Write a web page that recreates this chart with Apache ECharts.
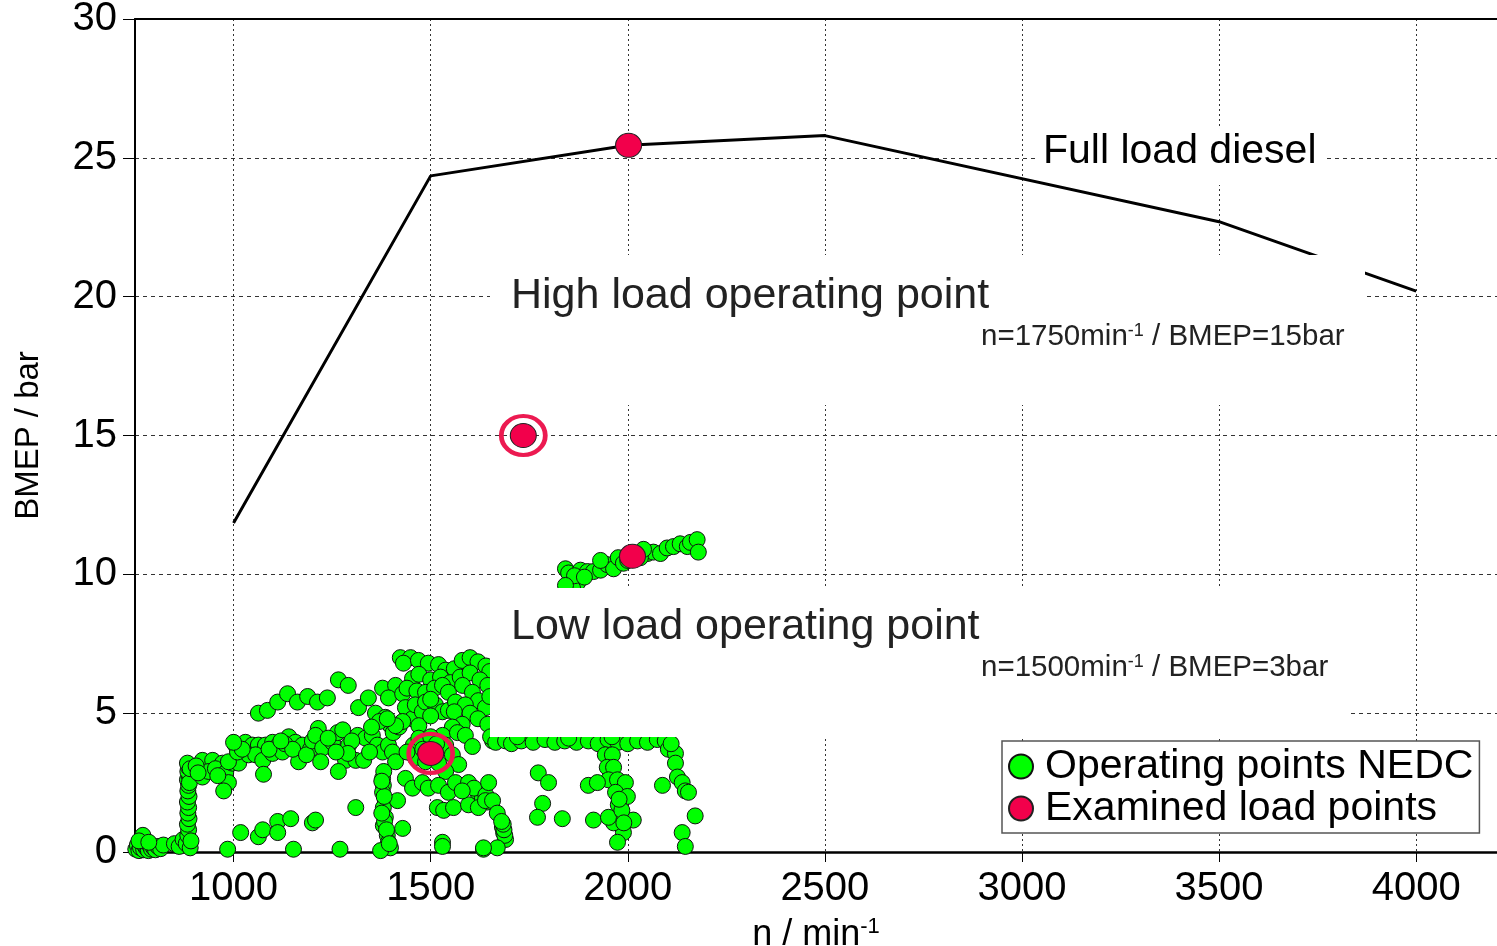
<!DOCTYPE html>
<html>
<head>
<meta charset="utf-8">
<script src="https://cdn.jsdelivr.net/npm/echarts@6/dist/echarts.min.js"></script>
<style>
html,body{margin:0;padding:0;background:#fff;}
#chart{width:1497px;height:946px;}
</style>
</head>
<body>
<div id="chart"></div>
<script>
// ---- data ----
const xTicks = [1000, 1500, 2000, 2500, 3000, 3500, 4000];
const yTicks = [0, 5, 10, 15, 20, 25, 30];

// Full load curve [rpm, BMEP bar]
const fullLoad = [[1000, 11.85], [1500, 24.35], [2000, 25.45], [2500, 25.8], [3500, 22.7], [4000, 20.2]];

// Examined load points
const examinedPoints = [[2002, 25.45], [1735, 15.0], [2012, 10.65], [1500, 3.55]];
// Highlight rings around the two selected operating points
const ringPoints = [[1735, 15.0], [1500, 3.55]];

// NEDC operating points
const nedcIdle = [[752,0.1],[756,0.25],[760,0.05],[764,0.15],[768,0.3],[772,0.08],[776,0.2],[780,0.12],[784,0.05],[788,0.22],[792,0.1],[797,0.15],[802,0.08],[808,0.2],[815,0.12],[822,0.25],[770,0.6],[760,0.4],[785,0.35]];
const nedcFirstGear = [[850,0.3],[862,0.2],[872,0.45],[880,0.3],[884,0.6],[886,0.8],[883,1.0],[887,1.2],[884,1.4],[886,1.6],[883,1.8],[887,2.0],[884,2.2],[886,2.4],[883,2.6],[887,2.75],[884,2.9],[886,3.05],[883,3.2],[890,0.15],[892,0.4],[888,2.5],[890,3.0]];
const nedcLowRow = [[921,3.3],[947,3.3],[972,3.2],[921,2.7],[937,2.9],[954,3.0],[980,2.85],[987,2.5],[975,2.2],[997,3.2],[1005,3.85],[1013,3.2],[1030,3.95],[1048,3.85],[1063,3.85],[1081,3.85],[1099,3.95],[1114,3.85],[1140,4.15],[1157,3.95],[1175,3.85],[1195,3.7],[1038,3.5],[1056,3.5],[1074,3.3],[1099,3.55],[1124,3.6],[1165,3.25],[1076,2.8],[987,3.25],[1010,3.6],[1022,3.7],[1090,3.7],[1130,3.9],[1150,3.7],[1185,3.5],[905,3.1],[910,2.85],[960,2.75],[1000,3.95],[1120,4.0],[1200,4.0]];
const nedcUpperRow = [[1063,5.0],[1086,5.1],[1112,5.4],[1137,5.7],[1162,5.4],[1188,5.6],[1213,5.4],[1238,5.55],[1266,6.2],[1291,6.0]];
const nedcMidRow = [[1215,4.45],[1208,4.2],[1226,3.75],[1221,3.25],[1251,3.95],[1264,4.3],[1277,4.4],[1292,3.85],[1284,3.3],[1266,2.9],[1310,3.3],[1330,3.3],[1315,4.2],[1335,4.1],[1352,4.2],[1365,3.85],[1378,3.6],[1393,3.85],[1403,3.6],[1411,3.25],[1240,4.1],[1300,4.0],[1345,3.6],[1290,3.55],[1260,3.6]];
const nedcRise = [[1317,5.2],[1342,5.55],[1378,5.9],[1411,6.0],[1393,5.55],[1429,5.7],[1454,6.25],[1360,5.0],[1385,4.85],[1398,4.55],[1370,4.7],[1405,4.3],[1420,4.5],[1350,4.5]];
const nedcTopCluster = [[1423,7.0],[1449,7.0],[1431,6.8],[1469,6.9],[1494,6.8],[1520,6.75],[1538,6.55],[1560,6.6],[1580,6.9],[1600,7.0],[1620,6.85],[1640,6.7],[1650,6.5],[1470,6.4],[1500,6.2],[1525,6.3],[1550,6.1],[1575,6.3],[1600,6.45],[1625,6.2],[1645,6.0],[1440,5.9],[1465,5.8],[1487,5.75],[1510,5.9],[1530,6.0],[1545,5.75],[1581,6.0],[1606,5.75],[1621,5.45],[1639,5.2],[1650,5.6],[1436,5.2],[1454,4.8],[1461,5.3],[1479,5.05],[1487,5.4],[1512,5.3],[1530,5.05],[1545,5.1],[1563,5.4],[1588,5.3],[1429,4.7],[1411,4.55],[1390,4.8],[1500,5.5],[1560,5.05],[1600,5.0],[1620,4.8],[1645,4.6],[1580,4.6],[1555,4.5],[1470,4.55],[1500,4.9]];
const nedcAroundLow = [[1456,3.85],[1461,3.4],[1487,3.25],[1530,4.2],[1538,3.85],[1555,3.5],[1568,4.3],[1588,4.2],[1606,3.8],[1571,3.15],[1538,2.9],[1470,4.1],[1500,4.15],[1440,3.6],[1520,3.2],[1480,3.7],[1515,3.9]];
const nedcDiagonal = [[1436,2.65],[1454,2.3],[1479,2.5],[1494,2.3],[1520,2.4],[1545,2.15],[1563,2.5],[1596,2.5],[1619,2.15],[1631,1.95],[1644,1.8],[1517,1.6],[1533,1.5],[1558,1.6],[1596,1.7],[1621,1.6],[1610,2.3],[1580,2.2],[1640,2.05],[1647,2.5],[1639,1.85],[1657,1.85],[1669,1.4],[1682,0.9],[1685,0.7],[1690,0.45],[1688,0.6],[1686,0.8],[1684,1.0],[1680,1.1],[1634,0.1],[1669,0.15],[1657,4.0]];
const nedcSecondGear = [[1378,2.65],[1380,2.4],[1378,2.15],[1385,1.85],[1380,1.6],[1385,1.25],[1380,0.95],[1390,0.6],[1393,0.35],[1398,0.15],[1373,0.05],[1416,1.85],[1382,2.0],[1383,1.1],[1388,0.8],[1376,1.4],[1381,2.9],[1376,2.55]];
const nedcScattered = [[1018,0.7],[1063,0.55],[1074,0.8],[1112,1.1],[1112,0.7],[1145,1.2],[985,0.1],[1152,0.1],[1200,1.05],[1208,1.15],[1310,1.6],[1429,0.85],[1530,0.35],[1530,0.2],[1634,0.15],[1270,0.1],[1395,0.3],[1773,2.85],[1799,2.5],[1784,1.75],[1771,1.25],[1834,1.2],[1913,1.15]];
const nedcCruiseRow = [[1652,4.15],[1665,3.95],[1690,4.0],[1705,3.9],[1730,4.0],[1760,3.95],[1790,4.05],[1815,3.95],[1840,4.0],[1870,3.95],[1900,4.0],[1925,3.9],[1950,4.05],[1975,3.95],[2000,3.9],[2025,4.0],[2050,3.95],[2075,4.05],[1720,4.15],[1850,4.1],[1960,4.15],[2095,4.0]];
const nedcRightDrop = [[2103,3.7],[2121,3.55],[2121,3.2],[2126,2.7],[2138,2.5],[2146,2.2],[2154,2.15],[2088,2.4],[2171,1.3],[2138,0.7],[2146,0.2],[2110,3.9]];
const nedcThirdGear = [[1943,3.5],[1961,3.5],[1948,3.05],[1964,3.05],[1951,2.6],[1974,2.6],[1994,2.5],[1900,2.4],[1923,2.5],[1969,2.15],[1999,2.0],[1976,1.7],[1981,1.25],[1986,0.9],[1989,0.7],[1964,1.05],[1951,1.25],[2014,1.15],[1974,0.35],[1985,1.5],[1978,1.9],[1990,1.05]];
const nedcHighRow = [[1842,10.2],[1850,10.05],[1873,9.7],[1860,9.5],[1880,10.15],[1898,10.1],[1913,10.1],[1931,10.15],[1948,10.35],[1964,10.2],[1976,10.6],[1989,10.4],[2050,10.75],[2065,10.8],[2083,10.75],[2100,10.95],[2116,11.0],[2133,11.1],[2151,11.0],[2159,11.15],[2176,11.25],[2179,10.8],[2024,10.7],[2032,10.6],[1931,10.5],[2000,10.5],[2040,10.9],[1865,9.95],[1890,9.9],[2010,10.55],[1842,9.6]];

const nedcPoints = [].concat(nedcIdle, nedcFirstGear, nedcLowRow, nedcUpperRow, nedcMidRow, nedcRise,
  nedcTopCluster, nedcAroundLow, nedcDiagonal, nedcSecondGear, nedcScattered, nedcCruiseRow,
  nedcRightDrop, nedcThirdGear, nedcHighRow);

// ---- chart ----
const FONT = '"Liberation Sans", Arial, sans-serif';
const chart = echarts.init(document.getElementById('chart'), null, {renderer: 'canvas'});

const option = {
  backgroundColor: '#ffffff',
  animation: false,
  textStyle: {fontFamily: FONT},
  grid: {left: 135, top: 19, right: 0, bottom: 94, containLabel: false, outerBoundsMode: 'none'},
  xAxis: [{
    type: 'value', min: 750, max: 4205,
    name: 'n / min{sup|-1}',
    nameLocation: 'middle', nameGap: 64,
    nameTextStyle: {
      fontSize: 36, color: '#000', fontFamily: FONT,
      rich: {sup: {fontSize: 22, verticalAlign: 'top', fontFamily: FONT, color: '#000', padding: [0, 0, 16, 0]}}
    },
    axisLine: {show: true, onZero: false, lineStyle: {color: '#000', width: 2.5}},
    axisTick: {show: true, inside: false, length: 10, customValues: xTicks, lineStyle: {color: '#000', width: 1}},
    axisLabel: {show: true, customValues: xTicks, fontSize: 40, color: '#000', margin: 17, fontFamily: FONT,
      formatter: function (v) { return String(v); }},
    splitLine: {show: true, lineStyle: {color: '#333', width: 1, type: [2, 3]}}
  }, {
    type: 'value', min: 750, max: 4205, position: 'top',
    axisLine: {show: true, onZero: false, lineStyle: {color: '#000', width: 2}},
    axisTick: {show: false}, axisLabel: {show: false}, splitLine: {show: false}
  }],
  yAxis: {
    type: 'value', min: 0, max: 30, interval: 5,
    name: 'BMEP / bar', nameLocation: 'middle', nameGap: 90, nameRotate: 90,
    nameTextStyle: {fontSize: 33, color: '#000', fontFamily: FONT},
    axisLine: {show: true, onZero: false, lineStyle: {color: '#000', width: 2}},
    axisTick: {show: true, inside: false, length: 12, lineStyle: {color: '#000', width: 1}},
    axisLabel: {fontSize: 40, color: '#000', margin: 18, fontFamily: FONT},
    splitLine: {show: true, lineStyle: {color: '#333', width: 1, type: [4, 4]}}
  },
  legend: {
    show: true, orient: 'vertical', left: 1002, top: 741,
    data: ['Operating points NEDC', 'Examined load points'],
    backgroundColor: '#ffffff', borderColor: '#555', borderWidth: 1.5,
    padding: [5, 6, 4, 6], itemGap: 1, itemWidth: 26, itemHeight: 24,
    icon: 'circle',
    textStyle: {fontSize: 41, color: '#000', fontFamily: FONT, padding: [0, 0, 0, 6], lineHeight: 40},
    z: 20
  },
  series: [
    {
      name: 'Full load diesel', type: 'line', data: fullLoad, xAxisIndex: 0,
      symbol: 'none', lineStyle: {color: '#000', width: 3}, z: 2, silent: true
    },
    {
      name: 'Operating points NEDC', type: 'scatter', data: nedcPoints, xAxisIndex: 0,
      symbol: 'circle', symbolSize: 16,
      itemStyle: {color: '#00ff00', borderColor: '#111', borderWidth: 1, opacity: 1}, z: 3
    },
    {
      name: 'Examined load points', type: 'scatter', data: examinedPoints, xAxisIndex: 0,
      symbol: 'circle', symbolSize: [26, 24],
      itemStyle: {color: '#f2004b', borderColor: '#222', borderWidth: 1, opacity: 1}, z: 5
    },
    {
      name: 'rings', type: 'scatter', data: ringPoints, xAxisIndex: 0,
      symbol: 'circle', symbolSize: [44, 39],
      itemStyle: {color: 'rgba(0,0,0,0)', borderColor: '#ec1a51', borderWidth: 4.5, opacity: 1}, z: 6, silent: true
    }
  ],
  graphic: [
    // Full load label (under the curve)
    {type: 'rect', z: 1, shape: {x: 1035, y: 127, width: 289, height: 58}, style: {fill: '#fff'}, silent: true},
    {type: 'text', z: 1, x: 1043, y: 152, style: {text: 'Full load diesel', fontSize: 41, fontFamily: FONT, fill: '#000', verticalAlign: 'middle'}, silent: true},
    // High load annotation
    {type: 'rect', z: 10, shape: {x: 490, y: 255, width: 875, height: 150}, style: {fill: '#fff'}, silent: true},
    {type: 'text', z: 11, x: 511, y: 296, style: {text: 'High load operating point', fontSize: 43, fontFamily: FONT, fill: '#222', verticalAlign: 'middle'}, silent: true},
    {type: 'text', z: 11, x: 981, y: 337, style: {
      text: '{b|n=1750min}{s|-1}{b| / BMEP=15bar}', fontFamily: FONT, fill: '#222', verticalAlign: 'middle',
      rich: {b: {fontSize: 29.5, fontFamily: FONT, fill: '#222', verticalAlign: 'bottom'},
             s: {fontSize: 18, fontFamily: FONT, fill: '#222', verticalAlign: 'top'}}
    }, silent: true},
    // Low load annotation
    {type: 'rect', z: 10, shape: {x: 490, y: 588, width: 860, height: 149}, style: {fill: '#fff'}, silent: true},
    {type: 'text', z: 11, x: 511, y: 627, style: {text: 'Low load operating point', fontSize: 43, fontFamily: FONT, fill: '#222', verticalAlign: 'middle'}, silent: true},
    {type: 'text', z: 11, x: 981, y: 668, style: {
      text: '{b|n=1500min}{s|-1}{b| / BMEP=3bar}', fontFamily: FONT, fill: '#222', verticalAlign: 'middle',
      rich: {b: {fontSize: 29.5, fontFamily: FONT, fill: '#222', verticalAlign: 'bottom'},
             s: {fontSize: 18, fontFamily: FONT, fill: '#222', verticalAlign: 'top'}}
    }, silent: true}
  ]
};
chart.setOption(option);
</script>
</body>
</html>
